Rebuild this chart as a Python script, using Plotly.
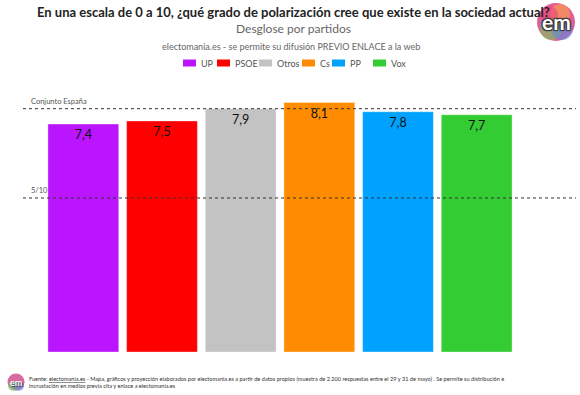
import plotly.graph_objects as go

# ---- data ----
parties = ["UP", "PSOE", "Otros", "Cs", "PP", "Vox"]
values = [7.4, 7.5, 7.9, 8.1, 7.8, 7.7]
colors = ["#BB14FF", "#FF0000", "#C3C3C3", "#FF8C00", "#00A2FF", "#33CC33"]
ref_total = 7.9
ref_half = 5.0
ref_labels = ["Conjunto España", "5/10"]

title = "En una escala de 0 a 10, ¿qué grado de polarización cree que existe en la sociedad actual?"
subtitle = "Desglose por partidos"
credit = "electomania.es - se permite su difusión PREVIO ENLACE a la web"
footer = ("Fuente: <u>electomania.es</u> - Mapa, gráficos y proyección elaborados por electomania.es a partir de datos propios "
          "(muestra de 2.200 respuestas entre el 29 y 31 de mayo) . Se permite su distribución e<br>"
          "incrustación en medios previa cita y enlace a electomania.es")

W, H = 580, 395
L, R, T, B = 44, 64, 60, 43
PW, PH = W - L - R, H - T - B
YMAX = 9.48

def px(x):
    return (x - L) / PW

def py(y):
    return (H - B - y) / PH

FONT = "Lato"

fig = go.Figure()
for p, v, c in zip(parties, values, colors):
    fig.add_trace(go.Bar(
        x=[p], y=[v], name=p,
        marker=dict(color=c, line=dict(color="rgba(255,255,255,0.35)", width=1)),
        text=[f"{v:.1f}".replace(".", ",")],
        textposition="inside", insidetextanchor="end", textangle=0,
        insidetextfont=dict(family=FONT, size=12.5, color="#111"),
        constraintext="none",
        showlegend=False, hoverinfo="skip",
    ))

shapes = []
for yv in (ref_total, ref_half):
    shapes.append(dict(type="line", xref="paper", yref="y", x0=px(23), x1=px(576),
                       y0=yv, y1=yv, line=dict(color="#333", width=1, dash="dot"), layer="above"))

annotations = []
for yv, lab in zip((ref_total, ref_half), ref_labels):
    annotations.append(dict(text=lab, xref="paper", yref="y", x=px(29), y=yv, xanchor="left",
                            yanchor="bottom", yshift=1, showarrow=False,
                            font=dict(family=FONT, size=7.5, color="#555")))

annotations += [
    dict(text=f"<b>{title}</b>", xref="paper", yref="paper", x=px(293), y=py(12), xanchor="center",
         yanchor="middle", showarrow=False, font=dict(family=FONT, size=13, color="#222")),
    dict(text=subtitle, xref="paper", yref="paper", x=px(293), y=py(29), xanchor="center",
         yanchor="middle", showarrow=False, font=dict(family=FONT, size=12, color="#666")),
    dict(text=credit, xref="paper", yref="paper", x=px(291), y=py(46), xanchor="center",
         yanchor="middle", showarrow=False, font=dict(family=FONT, size=9, color="#666")),
    dict(text=footer, xref="paper", yref="paper", x=px(27), y=py(382), xanchor="left",
         yanchor="middle", showarrow=False, align="left",
         font=dict(family=FONT, size=5.6, color="#333")),
]

# manual legend
leg_x = [183, 217, 259, 302, 332, 373]
for lx, p, c in zip(leg_x, parties, colors):
    shapes.append(dict(type="rect", xref="paper", yref="paper", x0=px(lx), x1=px(lx + 13),
                       y0=py(66.5), y1=py(59.5), fillcolor=c, line=dict(width=0), layer="above"))
    annotations.append(dict(text=p, xref="paper", yref="paper", x=px(lx + 16), y=py(63),
                            xanchor="left", yanchor="middle", showarrow=False,
                            font=dict(family=FONT, size=9, color="#555")))

# logo top right
def circ(cx, cy, r, color):
    return dict(type="circle", xref="paper", yref="paper", x0=px(cx - r), x1=px(cx + r),
                y0=py(cy + r), y1=py(cy - r), fillcolor=color, line=dict(width=0), layer="above")

shapes += [
    circ(556, 22, 19, "#e0609a"),
    circ(551, 29, 11, "rgba(120,200,90,0.6)"),
    circ(562, 29, 11, "rgba(80,140,230,0.55)"),
    circ(560, 14, 10, "rgba(255,170,60,0.55)"),
    circ(549, 15, 9, "rgba(230,70,120,0.6)"),
    circ(16, 382, 8.5, "#d86aa0"),
    circ(13, 386, 5, "rgba(110,200,100,0.6)"),
    circ(19, 386, 5, "rgba(90,140,230,0.55)"),
]
annotations += [
    dict(text="<b>em</b>", xref="paper", yref="paper", x=px(556), y=py(22), xanchor="center",
         yanchor="middle", showarrow=False,
         font=dict(family=FONT, size=21, color="white", shadow="1px 1px 1px #333, -1px -1px 1px #333, 1px -1px 1px #333, -1px 1px 1px #333")),
    dict(text="<b>em</b>", xref="paper", yref="paper", x=px(16), y=py(382), xanchor="center",
         yanchor="middle", showarrow=False,
         font=dict(family=FONT, size=9, color="white", shadow="1px 1px 1px #333")),
]

fig.update_layout(
    width=W, height=H, margin=dict(l=L, r=R, t=T, b=B),
    paper_bgcolor="white", plot_bgcolor="white",
    barmode="overlay", bargap=0.1,
    xaxis=dict(showticklabels=False, showgrid=False, zeroline=False, showline=False,
               categoryorder="array", categoryarray=parties, fixedrange=True),
    yaxis=dict(range=[0, YMAX], visible=False, fixedrange=True),
    shapes=shapes, annotations=annotations, showlegend=False,
    uniformtext=dict(mode=False),
)

fig.write_html("out.html", config={"displayModeBar": False},
               post_script="document.body.style.margin='0';document.body.style.overflow='hidden';")
